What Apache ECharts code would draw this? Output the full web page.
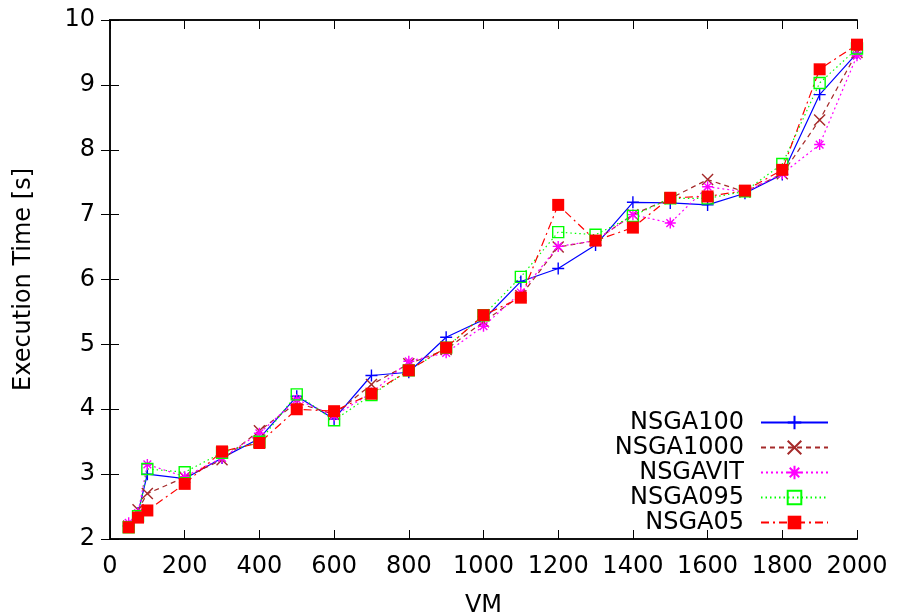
<!DOCTYPE html>
<html>
<head>
<meta charset="utf-8">
<script src="https://cdn.jsdelivr.net/npm/echarts@6/dist/echarts.min.js"></script>
<style>
  html, body { margin: 0; padding: 0; background: #fff; }
  #chart { width: 899px; height: 616px; }
</style>
</head>
<body>
<div id="chart"></div>
<script>
// Number of VMs
const vmCounts = [50, 75, 100, 200, 300, 400, 500, 600, 700, 800, 900, 1000, 1100, 1200, 1300, 1400, 1500, 1600, 1700, 1800, 1900, 2000];

// Execution time [s] per algorithm variant
const nsga100  = [2.20, 2.40, 3.00, 2.93, 3.25, 3.55, 4.20, 3.85, 4.52, 4.57, 5.11, 5.38, 5.97, 6.17, 6.53, 7.19, 7.18, 7.15, 7.33, 7.62, 8.85, 9.49];
const nsga1000 = [2.20, 2.45, 2.70, 2.95, 3.22, 3.67, 4.10, 3.92, 4.38, 4.70, 4.92, 5.35, 5.75, 6.50, 6.60, 7.00, 7.25, 7.54, 7.35, 7.63, 8.46, 9.50];
const nsgaVIT  = [2.25, 2.40, 3.15, 2.96, 3.25, 3.63, 4.15, 3.90, 4.25, 4.74, 4.87, 5.28, 5.80, 6.51, 6.60, 7.00, 6.87, 7.43, 7.35, 7.63, 8.08, 9.45];
const nsga095  = [2.18, 2.35, 3.08, 3.03, 3.33, 3.50, 4.23, 3.83, 4.22, 4.60, 4.95, 5.45, 6.04, 6.73, 6.69, 6.98, 7.25, 7.25, 7.36, 7.78, 9.03, 9.56];
const nsga05   = [2.18, 2.33, 2.44, 2.85, 3.35, 3.48, 4.00, 3.97, 4.24, 4.60, 4.95, 5.45, 5.72, 7.15, 6.60, 6.80, 7.26, 7.28, 7.37, 7.69, 9.24, 9.62];

const seriesNames = ['NSGA100', 'NSGA1000', 'NSGAVIT', 'NSGA095', 'NSGA05'];
const xTicks = [0, 200, 400, 600, 800, 1000, 1200, 1400, 1600, 1800, 2000];
const yTicks = [2, 3, 4, 5, 6, 7, 8, 9, 10];

const FONT = 'DejaVu Sans';

// gnuplot-like point shapes
const PLUS  = 'path://M0,5L10,5M5,0L5,10';
const CROSS = 'path://M0,0L10,10M0,10L10,0';
const STAR  = 'path://M0,5L10,5M5,0L5,10M1.5,1.5L8.5,8.5M1.5,8.5L8.5,1.5';
const SQUARE_OPEN = 'path://M0,0L10,0L10,10L0,10Z';

function pairs(ys) {
  return vmCounts.map((x, i) => [x, ys[i]]);
}

function lineSeries(name, ys, color, dash, symbol, size, filled) {
  return {
    name: name,
    type: 'line',
    data: pairs(ys),
    symbol: symbol,
    symbolSize: size,
    showAllSymbol: true,
    lineStyle: { color: color, width: 1.2, type: dash },
    itemStyle: {
      color: filled ? color : 'rgba(0,0,0,0)',
      borderColor: color,
      borderWidth: filled ? 0 : 1.4
    },
    emphasis: { disabled: true },
    animation: false
  };
}

const chart = echarts.init(document.getElementById('chart'), null, { renderer: 'canvas' });

const tickStyle = { show: true, inside: true, length: 9, lineStyle: { color: '#000', width: 1 } };
const axisLineStyle = { show: true, lineStyle: { color: '#111', width: 2 } };

chart.setOption({
  backgroundColor: '#fff',
  animation: false,
  grid: { left: 110, right: 42, top: 20, bottom: 77, containLabel: false, outerBoundsMode: 'none' },
  legend: {
    orient: 'vertical',
    align: 'right',
    right: 65,
    top: 405,
    itemWidth: 67,
    itemHeight: 17,
    itemGap: 0,
    data: seriesNames,
    textStyle: { fontFamily: FONT, fontSize: 24, color: '#000', lineHeight: 25, padding: [0, 12, 0, 0] }
  },
  xAxis: [
    {
      type: 'value',
      min: 0, max: 2000, interval: 200,
      position: 'bottom',
      name: 'VM',
      nameLocation: 'middle',
      nameGap: 55,
      nameTextStyle: { fontFamily: FONT, fontSize: 24, color: '#000' },
      axisLine: axisLineStyle,
      axisTick: tickStyle,
      axisLabel: { fontFamily: FONT, fontSize: 24, color: '#000', margin: 16,
        formatter: v => xTicks.includes(v) ? String(v) : '' },
      splitLine: { show: false }
    },
    {
      type: 'value',
      min: 0, max: 2000, interval: 200,
      position: 'top',
      axisLine: axisLineStyle,
      axisTick: tickStyle,
      axisLabel: { show: false },
      splitLine: { show: false }
    }
  ],
  yAxis: [
    {
      type: 'value',
      min: 2, max: 10, interval: 1,
      position: 'left',
      name: 'Execution Time [s]',
      nameLocation: 'middle',
      nameGap: 74,
      nameTextStyle: { fontFamily: FONT, fontSize: 24, color: '#000' },
      axisLine: axisLineStyle,
      axisTick: tickStyle,
      axisLabel: { fontFamily: FONT, fontSize: 24, color: '#000', margin: 15,
        formatter: v => yTicks.includes(v) ? String(v) : '' },
      splitLine: { show: false }
    },
    {
      type: 'value',
      min: 2, max: 10, interval: 1,
      position: 'right',
      axisLine: axisLineStyle,
      axisTick: tickStyle,
      axisLabel: { show: false },
      splitLine: { show: false }
    }
  ],
  series: [
    lineSeries('NSGA100',  nsga100,  '#0000ff', 'solid',        PLUS,        12, false),
    lineSeries('NSGA1000', nsga1000, '#a52a2a', [5, 4],         CROSS,       11, false),
    lineSeries('NSGAVIT',  nsgaVIT,  '#ff00ff', [2, 3],         STAR,        11, false),
    lineSeries('NSGA095',  nsga095,  '#00ff00', [1.5, 3],       SQUARE_OPEN, 11, false),
    lineSeries('NSGA05',   nsga05,   '#ff0000', [8, 4, 2, 4],   'rect',      12, true)
  ]
});
</script>
</body>
</html>
